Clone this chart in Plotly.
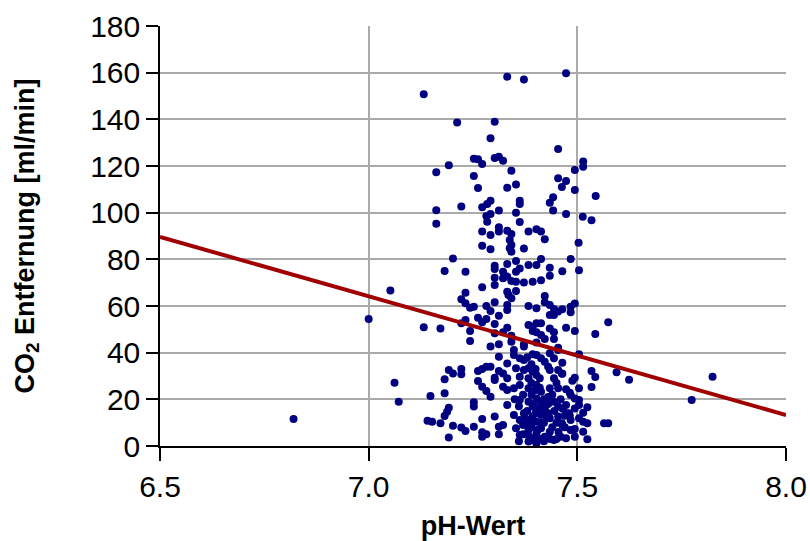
import plotly.graph_objects as go

# pH values (x) and CO2 removal values (y)
ph = [
    6.82, 7.00, 7.052, 7.132, 7.062, 7.072, 7.132, 7.141, 7.148,
    7.824, 7.774, 7.574, 7.543, 7.594, 7.624, 7.534, 7.543, 7.534, 7.564, 7.574, 7.524,
    7.504, 7.504, 7.484, 7.494, 7.484, 7.464, 7.484, 7.473, 7.494, 7.464, 7.464, 7.464, 7.494, 7.488, 7.504, 7.473, 7.482, 7.494, 7.504, 7.504,
    7.524, 7.514, 7.514, 7.524, 7.514, 7.494, 7.473, 7.464, 7.473, 7.482,
    # upper-left cluster
    7.332, 7.212, 7.302, 7.292, 7.252, 7.262, 7.272, 7.302, 7.312, 7.322, 7.192, 7.162, 7.252, 7.262, 7.332, 7.222, 7.162,
    7.162, 7.292, 7.284, 7.272, 7.312, 7.292, 7.282, 7.284, 7.272, 7.292, 7.312, 7.312, 7.332, 7.272, 7.292, 7.338, 7.338,
    # upper-right cluster
    7.372, 7.473, 7.454, 7.342, 7.353, 7.494, 7.514, 7.514, 7.454, 7.473, 7.463, 7.494, 7.544, 7.442, 7.434, 7.362, 7.362,
    7.442, 7.473, 7.353, 7.513, 7.534, 7.362, 7.342, 7.342, 7.383, 7.402, 7.413, 7.422, 7.503, 7.372,
    # middle-left
    7.202, 7.182, 7.232, 7.302, 7.302, 7.322, 7.332, 7.302, 7.322, 7.332, 7.272, 7.302, 7.232, 7.332, 7.222, 7.232, 7.243,
    7.252, 7.282, 7.292, 7.302, 7.312, 7.262, 7.282, 7.272, 7.232, 7.222, 7.172, 7.302, 7.243, 7.302, 7.332, 7.322, 7.243,
    7.292, 7.312,
    # middle-right
    7.342, 7.353, 7.362, 7.353, 7.383, 7.402, 7.413, 7.434, 7.434, 7.342, 7.353, 7.372, 7.393, 7.413, 7.335, 7.353, 7.342,
    7.332, 7.332, 7.383, 7.402, 7.422, 7.422, 7.434, 7.444, 7.444, 7.434, 7.454, 7.383, 7.393, 7.402, 7.413, 7.393, 7.402,
    7.413, 7.434, 7.444, 7.444, 7.422, 7.342, 7.342, 7.372, 7.402, 7.454,
    # lower-left
    7.312, 7.332, 7.192, 7.202, 7.222, 7.222, 7.262, 7.272, 7.282, 7.292, 7.312, 7.322, 7.302, 7.302, 7.332, 7.182, 7.262,
    7.272, 7.282, 7.292, 7.322, 7.332, 7.182, 7.252, 7.252, 7.332, 7.192, 7.188, 7.182, 7.172, 7.152, 7.202, 7.222, 7.232,
    7.252, 7.272, 7.272, 7.282, 7.272, 7.302, 7.312, 7.322, 7.312, 7.192,
    # lower-right dense cluster
    7.348, 7.372, 7.454,
    7.348, 7.362, 7.372, 7.393, 7.402, 7.413, 7.422, 7.434, 7.444,
    7.353, 7.372, 7.383, 7.393, 7.362, 7.383, 7.402, 7.434, 7.454, 7.463, 7.444,
    7.348, 7.362, 7.383, 7.402, 7.413, 7.434, 7.454, 7.484,
    7.362, 7.383, 7.393, 7.402, 7.413, 7.422, 7.444, 7.454, 7.473, 7.494,
    7.348, 7.362, 7.372, 7.393, 7.402, 7.413, 7.434, 7.454, 7.463, 7.484, 7.504,
    7.353, 7.362, 7.383, 7.393, 7.402, 7.413, 7.422, 7.434, 7.444, 7.484, 7.494, 7.383, 7.402,
    7.37, 7.38, 7.39, 7.41, 7.42, 7.43, 7.44, 7.45, 7.46, 7.47, 7.40, 7.38, 7.36, 7.35,
    7.39, 7.41, 7.43, 7.45, 7.37, 7.40, 7.42, 7.44, 7.48, 7.36, 7.39, 7.42, 7.47, 7.38,
    7.375, 7.385, 7.395, 7.405, 7.415, 7.425, 7.435, 7.445, 7.455, 7.465,
    7.39, 7.41, 7.43, 7.45, 7.37, 7.39, 7.41, 7.43, 7.46, 7.40,
]

co2 = [
    11.6, 54.4, 66.6, 50.9, 27.1, 19.0, 150.7, 10.8, 21.4,
    29.7, 19.7, 53.0, 48.0, 31.6, 28.4, 32.1, 29.6, 25.3, 9.7, 9.7, 2.9,
    39.3, 75.3, 80.1, 61.1, 59.7, 58.6, 57.3, 50.7, 49.3, 74.9, 35.7, 31.0, 29.3, 28.0, 24.7, 24.3, 22.8, 20.4, 19.7, 17.6,
    16.6, 14.3, 10.4, 9.7, 6.1, 7.3, 3.3, 9.0, 14.0, 13.0,
    # upper-left cluster
    158.3, 138.6, 139.0, 131.9, 123.1, 122.9, 120.9, 123.4, 124.0, 122.3, 120.3, 117.3, 115.7, 110.6, 110.7, 102.6, 101.0,
    95.3, 105.1, 103.7, 102.3, 100.9, 99.4, 98.6, 96.1, 91.9, 90.4, 93.7, 91.9, 92.3, 85.8, 84.3, 88.3, 84.7,
    # upper-right cluster
    157.1, 159.7, 127.3, 118.0, 112.1, 118.3, 121.9, 119.7, 114.7, 113.6, 111.0, 109.7, 107.1, 106.6, 104.3, 105.1, 103.7,
    100.9, 99.4, 100.0, 98.3, 96.7, 96.0, 90.9, 86.1, 91.9, 92.9, 91.9, 88.6, 87.1, 84.6,
    # middle-left
    80.4, 75.0, 74.7, 77.3, 75.9, 74.7, 78.0, 72.1, 71.9, 72.6, 68.0, 69.0, 65.7, 66.1, 62.9, 61.2, 59.3,
    59.7, 60.0, 57.9, 61.6, 55.8, 55.0, 54.4, 53.0, 54.0, 52.6, 50.4, 52.3, 49.3, 48.3, 50.7, 48.7, 45.0,
    42.6, 43.6,
    # middle-right
    83.3, 79.3, 76.1, 74.7, 77.6, 77.6, 80.1, 76.4, 73.0, 70.7, 70.4, 70.1, 70.4, 71.0, 64.7, 66.4, 63.3,
    60.4, 58.3, 60.0, 59.0, 64.3, 61.6, 60.4, 58.7, 56.1, 56.1, 57.6, 51.9, 51.1, 52.6, 52.6, 49.3, 48.7,
    47.6, 50.4, 48.7, 45.9, 45.9, 47.3, 44.7, 43.6, 44.4, 42.1,
    # lower-left
    38.3, 35.4, 32.6, 31.1, 33.0, 30.7, 32.1, 33.0, 34.0, 34.0, 32.1, 31.1, 29.3, 28.3, 29.0, 28.6, 27.9,
    25.4, 23.6, 21.1, 25.4, 24.0, 22.6, 18.7, 16.9, 17.6, 16.4, 14.7, 12.9, 9.7, 10.4, 8.7, 7.9, 6.4,
    8.3, 11.6, 5.9, 5.0, 4.0, 12.6, 8.3, 9.0, 5.0, 3.6,
    # lower-right dense cluster
    41.1, 42.6, 41.1,
    39.0, 37.6, 36.9, 39.3, 39.0, 37.6, 36.1, 39.7, 37.6,
    33.3, 32.6, 33.3, 31.8, 29.7, 29.0, 30.4, 32.6, 32.6, 31.1, 29.0,
    24.7, 26.1, 24.7, 26.1, 23.3, 24.7, 24.7, 21.9,
    19.7, 19.0, 16.9, 20.4, 18.3, 16.1, 19.0, 16.9, 17.6, 16.1,
    13.3, 11.1, 14.0, 12.6, 10.4, 13.3, 11.9, 12.6, 9.7, 11.1, 11.9,
    7.6, 4.7, 6.9, 2.6, 5.4, 7.6, 4.0, 6.1, 2.6, 6.9, 4.0, 1.9, 1.1,
    22.0, 15.0, 8.0, 3.0, 20.0, 14.0, 8.0, 3.0, 20.0, 8.0, 14.0, 9.0, 17.0, 20.0,
    27.0, 29.0, 34.0, 27.0, 5.0, 24.0, 10.0, 22.0, 14.0, 2.0, 35.0, 2.0, 13.0, 38.0,
    12.0, 4.0, 18.0, 7.0, 10.0, 13.0, 3.0, 15.0, 6.0, 16.0,
    22.0, 25.0, 18.0, 10.0, 9.0, 11.0, 16.0, 21.0, 4.0, 33.0,
]

assert len(ph) == len(co2), (len(ph), len(co2))

# regression line end points
trend_ph = [6.5, 8.0]
trend_co2 = [89.6, 13.3]

x_ticks = [6.5, 7.0, 7.5, 8.0]
x_tick_labels = ["6.5", "7.0", "7.5", "8.0"]
y_ticks = [0, 20, 40, 60, 80, 100, 120, 140, 160, 180]

FONT = "Liberation Sans, Arial, sans-serif"

fig = go.Figure()
fig.add_trace(go.Scatter(
    x=ph, y=co2, mode="markers",
    marker=dict(color="#000080", size=8, line=dict(width=0)),
    showlegend=False, cliponaxis=False,
))
fig.add_trace(go.Scatter(
    x=trend_ph, y=trend_co2, mode="lines",
    line=dict(color="#A00000", width=4),
    showlegend=False,
))

fig.update_layout(
    width=810, height=541,
    margin=dict(l=160, r=24, t=26, b=95),
    paper_bgcolor="white", plot_bgcolor="white",
    font=dict(family=FONT, color="black", size=30),
)
fig.update_xaxes(
    range=[6.5, 8.0], automargin=False,
    tickmode="array", tickvals=x_ticks, ticktext=x_tick_labels,
    showgrid=True, gridcolor="#AAAAAA", gridwidth=1.5,
    showline=True, linecolor="black", linewidth=1.5,
    ticks="outside", ticklen=13, tickwidth=1.5, tickcolor="black",
    tickfont=dict(size=30, family=FONT),
    zeroline=False,
    title=dict(text="pH-Wert", font=dict(size=27, family=FONT, weight="bold")),
)
fig.update_yaxes(
    range=[0, 180], automargin=False,
    tickmode="array", tickvals=y_ticks,
    showgrid=True, gridcolor="#AAAAAA", gridwidth=1.5,
    showline=True, linecolor="black", linewidth=1.5,
    ticks="outside", ticklen=12, tickwidth=1.5, tickcolor="black",
    tickfont=dict(size=30, family=FONT),
    zeroline=False,
    title=dict(text="CO<sub>2</sub> Entfernung [ml/min]", font=dict(size=27, family=FONT, weight="bold"), standoff=48),
)

fig.write_html("out.html")
